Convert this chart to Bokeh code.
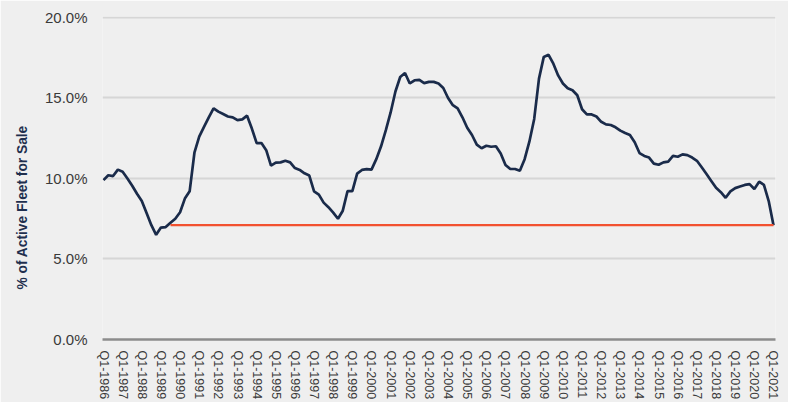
from bokeh.plotting import figure
from bokeh.models import Range1d, FixedTicker, PrintfTickFormatter, Title
from bokeh.embed import file_html
from bokeh.resources import INLINE

# ---- data ----
years = list(range(1986, 2022))
quarters = [f"Q{q}-{y}" for y in years for q in (1, 2, 3, 4)][:141]  # Q1-1986 .. Q1-2021

fleet_for_sale = [
    9.9, 10.2, 10.15, 10.55, 10.42, 10.0, 9.55, 9.05, 8.6, 7.85,
    7.1, 6.5, 6.95, 6.98, 7.25, 7.5, 7.9, 8.75, 9.2, 11.6,
    12.6, 13.2, 13.8, 14.35, 14.15, 14.0, 13.85, 13.8, 13.62, 13.67,
    13.9, 13.1, 12.2, 12.2, 11.76, 10.8, 10.98, 11.0, 11.1, 11.0,
    10.65, 10.53, 10.32, 10.18, 9.2, 9.0, 8.5, 8.22, 7.88, 7.5,
    8.0, 9.22, 9.22, 10.3, 10.53, 10.58, 10.55, 11.2, 12.0, 13.0,
    14.1, 15.4, 16.3, 16.55, 15.9, 16.1, 16.12, 15.92, 16.0, 16.0,
    15.9, 15.62, 15.0, 14.55, 14.35, 13.8, 13.15, 12.7, 12.1, 11.88,
    12.03, 11.97, 12.0, 11.55, 10.84, 10.59, 10.59, 10.48, 11.2, 12.3,
    13.7, 16.2, 17.55, 17.68, 17.13, 16.4, 15.9, 15.6, 15.48, 15.17,
    14.3, 13.98, 13.98, 13.85, 13.52, 13.36, 13.32, 13.18, 12.97, 12.82,
    12.7, 12.25, 11.58, 11.4, 11.3, 10.92, 10.85, 11.0, 11.05, 11.4,
    11.35, 11.5, 11.45, 11.3, 11.1, 10.7, 10.28, 9.85, 9.42, 9.15,
    8.8, 9.2, 9.4, 9.5, 9.6, 9.65, 9.35, 9.8, 9.6, 8.6,
    7.1,
]

reference_start = "Q3-1989"
reference_end = "Q1-2021"
reference_level = 7.1

y_ticks = [0, 5, 10, 15, 20]
y_title = "% of Active Fleet for Sale"

# ---- figure ----
BG = "#efefef"
x = list(range(len(quarters)))

p = figure(width=788, height=402, output_backend="svg", toolbar_location=None,
           x_range=Range1d(-0.21, 140.42), y_range=Range1d(0, 20.06),
           min_border_left=102, min_border_right=13, min_border_top=16, min_border_bottom=62)
p.background_fill_color = BG
p.border_fill_color = BG
p.outline_line_color = None

p.line(x, fleet_for_sale, line_color="#1a2b4a", line_width=2.7)
i0, i1 = quarters.index(reference_start), quarters.index(reference_end)
p.line([i0, i1], [reference_level, reference_level], line_color="#f2512f", line_width=2.2)

# x axis
q1_idx = [i for i, q in enumerate(quarters) if q.startswith("Q1")]
p.xaxis.ticker = FixedTicker(ticks=q1_idx)
p.xaxis.major_label_overrides = {i: quarters[i] for i in q1_idx}
p.xaxis.major_label_orientation = "vertical"
p.xaxis.major_label_text_font = "Liberation Sans"
p.xaxis.major_label_text_font_size = "12.5px"
p.xaxis.major_label_text_color = "#3a3a3a"
p.xaxis.major_label_standoff = 5
p.xaxis.axis_line_color = "#8c8c8c"
p.xaxis.axis_line_width = 2.5
p.xaxis.major_tick_line_color = None
p.xaxis.minor_tick_line_color = None
p.xgrid.grid_line_color = None

# y axis
p.yaxis.ticker = FixedTicker(ticks=y_ticks)
p.yaxis.formatter = PrintfTickFormatter(format="%.1f%%")
p.yaxis.major_label_text_font = "Liberation Sans"
p.yaxis.major_label_text_font_size = "15px"
p.yaxis.major_label_text_color = "#3a3a3a"
p.yaxis.major_label_standoff = 9
p.yaxis.axis_line_color = None
p.yaxis.major_tick_line_color = None
p.yaxis.minor_tick_line_color = None
p.ygrid.grid_line_color = "#d6d6d6"
p.ygrid.grid_line_width = 2

t = Title(text=y_title, align="left", offset=50, standoff=23,
          text_font="Liberation Sans", text_font_style="bold",
          text_font_size="13.75px", text_color="#1f2f4e")
p.add_layout(t, "left")

open("out.html", "w").write(file_html(p, INLINE))
